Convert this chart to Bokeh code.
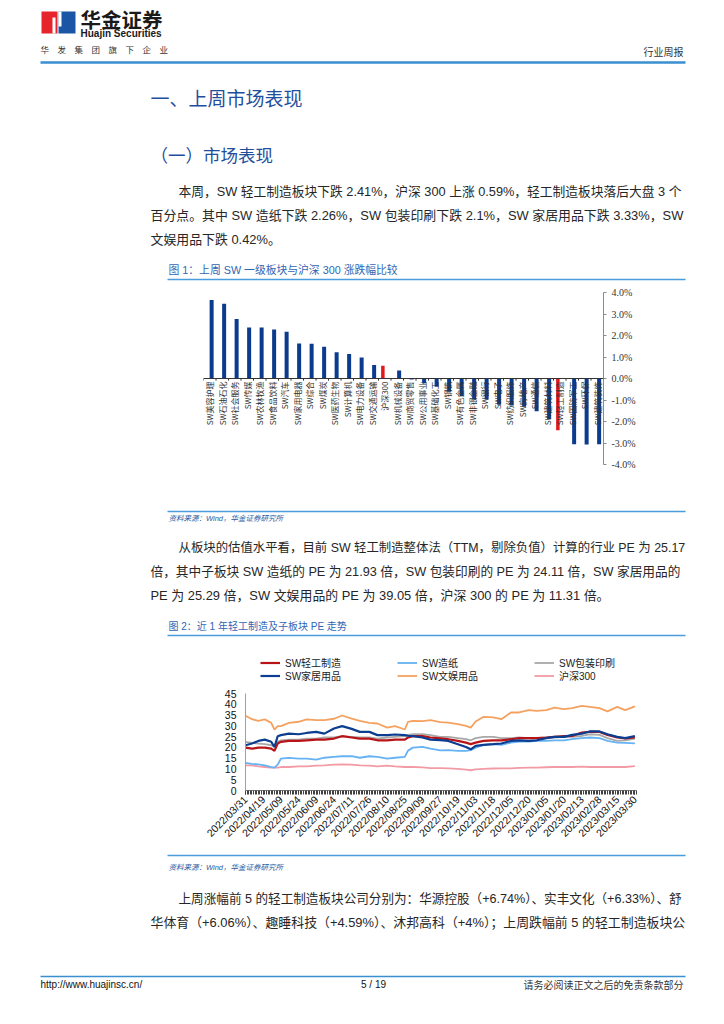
import math
from bokeh.plotting import figure
from bokeh.models import Range1d, ColumnDataSource, FixedTicker, Legend, LegendItem, Span
from bokeh.embed import file_html
from bokeh.resources import INLINE
from bokeh.core.properties import value

# ---------------- data: figure 1 (weekly change, %) ----------------
sectors = ["SW美容护理", "SW石油石化", "SW社会服务", "SW传媒", "SW农林牧渔", "SW食品饮料",
           "SW汽车", "SW家用电器", "SW综合", "SW煤炭", "SW医药生物", "SW计算机",
           "SW电力设备", "SW交通运输", "沪深300", "SW机械设备", "SW商贸零售", "SW公用事业",
           "SW基础化工", "SW钢铁", "SW有色金属", "SW非银金融", "SW银行", "SW电子",
           "SW纺织服饰", "SW房地产", "SW通信", "SW建筑材料", "SW轻工制造", "SW国防军工",
           "SW环保", "SW建筑装饰"]
weekly_change = [3.65, 3.48, 2.77, 2.37, 2.37, 2.28, 2.18, 1.63, 1.62, 1.48, 1.22, 1.14,
                 0.98, 0.63, 0.59, 0.37, -0.05, -0.22, -0.38, -0.62, -0.83, -0.98, -0.98, -1.22,
                 -1.26, -1.31, -1.52, -1.89, -2.41, -3.06, -3.07, -3.06]
highlighted = ["沪深300", "SW轻工制造"]
bar_ticks = [-4, -3, -2, -1, 0, 1, 2, 3, 4]

# ---------------- data: figure 2 (PE, trading-day index) ----------------
day_index = [0, 4, 8, 12, 16, 18, 20, 22, 27, 33, 38, 44, 49, 55, 60, 66, 71, 77, 82, 88, 93,
             99, 101, 104, 110, 115, 121, 126, 132, 137, 140, 143, 148, 154, 159, 165, 170, 176,
             181, 187, 192, 198, 203, 209, 214, 220, 225, 231, 236, 242]
tick_days = [0, 11, 22, 33, 44, 55, 66, 77, 88, 99, 110, 121, 132, 143, 154, 165, 176, 187,
             198, 209, 220, 231, 242]
tick_labels = ["2022/03/31", "2022/04/19", "2022/05/09", "2022/05/24", "2022/06/09",
               "2022/06/24", "2022/07/11", "2022/07/26", "2022/08/10", "2022/08/25",
               "2022/09/09", "2022/09/27", "2022/10/19", "2022/11/03", "2022/11/18",
               "2022/12/05", "2022/12/20", "2023/01/05", "2023/01/20", "2023/02/13",
               "2023/02/28", "2023/03/15", "2023/03/30"]
pe_light_ind = [19.9, 19.4, 19.9, 19.9, 19.4, 18.4, 21.8, 22.6, 23.0, 23.0, 23.3, 23.6, 23.6,
                24.1, 25.2, 24.6, 24.1, 24.1, 23.3, 23.3, 23.6, 23.6, 24.6, 25.2, 25.2, 24.6,
                24.2, 23.8, 23.0, 22.2, 21.5, 22.2, 23.0, 23.3, 23.3, 23.8, 24.3, 24.3, 24.3,
                24.6, 24.9, 25.2, 25.3, 26.9, 27.2, 27.2, 25.8, 24.6, 24.2, 24.6]
pe_paper = [12.8, 12.4, 12.1, 11.7, 10.9, 10.6, 12.0, 14.8, 15.1, 14.8, 14.8, 14.3, 15.2,
            15.6, 15.9, 15.9, 15.2, 15.9, 15.6, 14.8, 15.2, 15.6, 18.5, 19.9, 20.2, 19.4,
            18.6, 18.7, 18.4, 18.4, 18.7, 19.9, 21.2, 21.5, 21.2, 22.2, 22.7, 22.7, 23.0,
            23.0, 23.3, 23.3, 23.8, 24.3, 24.6, 24.3, 23.0, 22.2, 22.1, 21.9]
pe_package = [22.6, 22.1, 21.8, 21.5, 21.0, 20.2, 22.6, 23.3, 23.6, 23.6, 24.1, 24.1, 24.6,
              24.6, 25.2, 24.9, 24.6, 24.6, 24.1, 24.6, 24.9, 25.2, 25.8, 26.1, 26.1, 25.7,
              24.9, 24.9, 24.3, 23.8, 23.3, 24.3, 24.9, 24.9, 24.3, 24.3, 24.6, 24.3, 24.3,
              24.6, 24.6, 24.9, 24.9, 25.3, 26.1, 25.8, 24.3, 23.0, 23.3, 24.1]
pe_home = [21.0, 21.8, 23.0, 23.6, 22.6, 20.2, 25.2, 25.7, 26.4, 26.1, 26.7, 27.2, 26.4,
           28.8, 29.9, 28.6, 27.2, 27.2, 25.7, 25.7, 26.0, 25.7, 25.4, 25.2, 24.6, 23.6,
           23.4, 23.0, 21.5, 20.2, 19.1, 20.7, 21.2, 21.5, 21.8, 23.0, 23.3, 23.0, 23.3,
           24.3, 24.9, 24.9, 25.8, 26.4, 27.4, 27.4, 26.1, 24.9, 24.3, 25.3]
pe_culture = [34.7, 33.1, 32.3, 33.0, 31.4, 28.3, 29.9, 29.9, 31.4, 31.9, 33.0, 32.7, 32.7,
              33.3, 34.8, 33.4, 32.3, 31.4, 31.1, 29.2, 29.9, 28.3, 31.9, 32.3, 32.2, 32.7,
              31.7, 31.5, 30.8, 30.0, 29.2, 32.0, 34.2, 33.9, 33.1, 36.2, 36.2, 37.3, 37.0,
              37.3, 38.5, 37.8, 38.2, 39.3, 38.8, 38.2, 36.7, 38.8, 37.3, 39.0]
pe_hs300 = [11.7, 11.7, 11.2, 10.9, 10.6, 10.6, 10.6, 10.9, 10.9, 11.2, 11.2, 11.5, 11.7,
            12.0, 12.1, 12.0, 11.7, 11.5, 11.2, 11.5, 11.2, 10.9, 10.9, 10.9, 10.7, 10.4,
            10.4, 10.3, 10.0, 9.7, 9.4, 9.8, 10.0, 10.2, 10.3, 10.3, 10.5, 10.6, 10.6, 10.8,
            10.9, 10.9, 10.9, 11.1, 10.9, 10.9, 10.9, 10.9, 10.9, 11.3]
pe_ticks = [0, 5, 10, 15, 20, 25, 30, 35, 40, 45]

# ---------------- page text ----------------
para1 = ["本周，SW 轻工制造板块下跌 2.41%，沪深 300 上涨 0.59%，轻工制造板块落后大盘 3 个",
         "百分点。其中 SW 造纸下跌 2.26%，SW 包装印刷下跌 2.1%，SW 家居用品下跌 3.33%，SW",
         "文娱用品下跌 0.42%。"]
para2 = ["从板块的估值水平看，目前 SW 轻工制造整体法（TTM，剔除负值）计算的行业 PE 为 25.17",
         "倍，其中子板块 SW 造纸的 PE 为 21.93 倍，SW 包装印刷的 PE 为 24.11 倍，SW 家居用品的",
         "PE 为 25.29 倍，SW 文娱用品的 PE 为 39.05 倍，沪深 300 的 PE 为 11.31 倍。"]
para3 = ["上周涨幅前 5 的轻工制造板块公司分别为：华源控股（+6.74%）、实丰文化（+6.33%）、舒",
         "华体育（+6.06%）、趣睡科技（+4.59%）、沐邦高科（+4%）；上周跌幅前 5 的轻工制造板块公"]

W = 716
SANS = "Liberation Sans, Noto Sans CJK SC"
CJK = "Noto Sans CJK SC"
HEAD_BLUE = "#1F4E9E"
CAP_BLUE = "#2F66B5"
RULE_BLUE = "#4A9DDC"
TXT = "#262626"


def page_fig(top, bottom):
    p = figure(width=W, height=bottom - top, x_range=Range1d(0, W),
               y_range=Range1d(bottom, top), output_backend="svg", toolbar_location=None,
               min_border=0, x_axis_location=None, y_axis_location=None,
               outline_line_color=None)
    p.grid.visible = False
    return p


def txt(p, x, y, s, size, color=TXT, font=SANS, align="left", style="normal"):
    p.text(x=[x], y=[y], text=[s], text_font=value(font), text_font_size=f"{size}px",
           text_color=color, text_align=align, text_baseline="middle",
           text_font_style=style)


def rule(p, x0, x1, y, color=RULE_BLUE, width=1.5):
    p.line(x=[x0, x1], y=[y, y], line_color=color, line_width=width)


def paragraph(p, lines, y0, sizes):
    for i, (s, fs) in enumerate(zip(lines, sizes)):
        txt(p, 178 if i == 0 else 150, y0 + 24 * i, s, fs)


# ---------------- block 1: header + section text ----------------
f1 = page_fig(0, 283)
f1.quad(left=[41], right=[57], top=[11], bottom=[33], fill_color="#E5242B", line_color=None)
f1.quad(left=[58], right=[75], top=[11], bottom=[33], fill_color="#1B55A6", line_color=None)
f1.quad(left=[52], right=[55], top=[17], bottom=[33], fill_color="white", line_color=None)
f1.quad(left=[58], right=[61], top=[11], bottom=[26], fill_color="white", line_color=None)
txt(f1, 80, 18, "华金证券", 20.5, "#1A1A1A", CJK, style="bold")
txt(f1, 80, 32.5, "Huajin Securities", 10, "#1A1A1A", "Liberation Sans", style="bold")
txt(f1, 40, 48, "华　发　集　团　旗　下　企　业", 8.5, "#333333", CJK)
txt(f1, 683, 51, "行业周报", 10, "#333333", CJK, align="right")
rule(f1, 40, 685, 62, "#3A8FD0", 2.5)
txt(f1, 150, 97, "一、上周市场表现", 19, HEAD_BLUE, CJK)
txt(f1, 150, 154, "（一）市场表现", 17.5, HEAD_BLUE, CJK)
paragraph(f1, para1, 191, [12.75, 12.9, 12.9])
txt(f1, 168, 269, "图 1：上周 SW 一级板块与沪深 300 涨跌幅比较", 10.8, CAP_BLUE)
rule(f1, 167, 685, 279)

# ---------------- block 2: bar chart ----------------
pb = figure(width=W, height=222, x_range=Range1d(-0.5, len(sectors) - 0.5),
            y_range=Range1d(bar_ticks[0], bar_ticks[-1]), output_backend="svg",
            toolbar_location=None, x_axis_location=None, y_axis_location="right",
            min_border_left=203, min_border_right=113, min_border_top=9,
            min_border_bottom=41, outline_line_color=None)
pb.grid.visible = False
idx = list(range(len(sectors)))
blue_src = ColumnDataSource(dict(
    x=[i + 0.15 for i, s in zip(idx, sectors) if s not in highlighted],
    top=[v for s, v in zip(sectors, weekly_change) if s not in highlighted]))
red_src = ColumnDataSource(dict(
    x=[i - 0.15 for i, s in zip(idx, sectors) if s in highlighted],
    top=[v for s, v in zip(sectors, weekly_change) if s in highlighted]))
pb.vbar(x="x", top="top", bottom=0, width=0.32, source=blue_src, fill_color="#0B3B8C",
        line_color=None)
pb.vbar(x="x", top="top", bottom=0, width=0.28, source=red_src, fill_color="#E0191F",
        line_color=None)
pb.add_layout(Span(location=0, dimension="width", line_color="#333333", line_width=1))
pb.segment(x0=[i - 0.5 for i in idx + [len(sectors)]], y0=0,
           x1=[i - 0.5 for i in idx + [len(sectors)]], y1=-0.1,
           line_color="#333333", line_width=1)
pb.text(x=idx, y=[0] * len(sectors), text=sectors, angle=math.pi / 2, text_align="right",
        text_baseline="middle", y_offset=3, text_font=value(CJK), text_font_size="8px",
        text_color="#333333")
pb.yaxis.ticker = FixedTicker(ticks=bar_ticks)
pb.yaxis.major_label_overrides = {t: f"{t:.1f}%" for t in bar_ticks}
pb.yaxis.major_label_text_font = "Liberation Serif"
pb.yaxis.major_label_text_font_size = "10px"
pb.yaxis.major_label_text_color = "#333333"
pb.yaxis.axis_line_color = "#8C8C8C"
pb.yaxis.major_tick_line_color = "#8C8C8C"
pb.yaxis.major_tick_in = 0
pb.yaxis.major_tick_out = 3
pb.yaxis.minor_tick_line_color = None
pb.yaxis.major_label_standoff = 5

# ---------------- block 3: source + text ----------------
f3 = page_fig(505, 640)
rule(f3, 167, 685, 511)
txt(f3, 168, 518, "资料来源：Wind，华金证券研究所", 7.5, "#2E5A9C", style="italic")
paragraph(f3, para2, 547, [12.4, 12.7, 12.9])
txt(f3, 168, 626, "图 2：近 1 年轻工制造及子板块 PE 走势", 10, CAP_BLUE)
rule(f3, 167, 685, 635)

# ---------------- block 4: line chart ----------------
# the frame reaches above 45 so that the legend rows sit inside it; the axis stops at 45
pl = figure(width=W, height=212, x_range=Range1d(0, 243), y_range=Range1d(0, 65.9),
            output_backend="svg", toolbar_location=None, min_border_left=245,
            min_border_right=80, min_border_top=8, min_border_bottom=62,
            outline_line_color=None)
pl.grid.visible = False
src = ColumnDataSource(dict(x=day_index, li=pe_light_ind, pa=pe_paper, pk=pe_package,
                            ho=pe_home, cu=pe_culture, hs=pe_hs300))
r_hs = pl.line("x", "hs", source=src, line_color="#F29BA5", line_width=1.8)
r_pa = pl.line("x", "pa", source=src, line_color="#66B2F2", line_width=1.8)
r_pk = pl.line("x", "pk", source=src, line_color="#A8A8A8", line_width=1.8)
r_li = pl.line("x", "li", source=src, line_color="#B81418", line_width=2.2)
r_ho = pl.line("x", "ho", source=src, line_color="#0B3D91", line_width=2.2)
r_cu = pl.line("x", "cu", source=src, line_color="#F5A261", line_width=1.8)

pl.xaxis.ticker = FixedTicker(ticks=tick_days, minor_ticks=list(range(0, 244)))
pl.xaxis.major_label_overrides = {d: s for d, s in zip(tick_days, tick_labels)}
pl.xaxis.major_label_orientation = math.pi / 4
pl.xaxis.major_label_text_font = "Liberation Sans"
pl.xaxis.major_label_text_font_size = "10.5px"
pl.xaxis.major_label_text_color = "#111111"
pl.xaxis.axis_line_color = "#808080"
pl.xaxis.major_tick_line_color = "#404040"
pl.xaxis.minor_tick_line_color = "#404040"
pl.xaxis.major_tick_out = 4
pl.xaxis.major_tick_in = 0
pl.xaxis.minor_tick_out = 4
pl.xaxis.minor_tick_in = 0
pl.xaxis.major_label_standoff = 3

pl.yaxis.ticker = FixedTicker(ticks=pe_ticks)
pl.yaxis.bounds = (pe_ticks[0], pe_ticks[-1])
pl.yaxis.major_label_text_font = "Liberation Sans"
pl.yaxis.major_label_text_font_size = "10.5px"
pl.yaxis.major_label_text_color = "#111111"
pl.yaxis.axis_line_color = "#A0A0A0"
pl.yaxis.major_tick_out = 0
pl.yaxis.major_tick_in = 0
pl.yaxis.minor_tick_line_color = None
pl.yaxis.major_label_standoff = 9


def legend_row(items, y_from_frame_bottom):
    lg = Legend(items=[LegendItem(label=lab, renderers=[r]) for lab, r in items],
                orientation="horizontal", location=(15, y_from_frame_bottom))
    lg.label_text_font = SANS
    lg.label_text_font_size = "10px"
    lg.label_text_color = "#222222"
    lg.glyph_width = 20
    lg.glyph_height = 13
    lg.label_height = 13
    lg.label_standoff = 5
    lg.label_width = 107
    lg.spacing = 5
    lg.padding = 0
    lg.margin = 0
    lg.border_line_color = None
    lg.background_fill_alpha = 0
    pl.add_layout(lg)


legend_row([("SW轻工制造", r_li), ("SW造纸", r_pa), ("SW包装印刷", r_pk)], 120)
legend_row([("SW家居用品", r_ho), ("SW文娱用品", r_cu), ("沪深300", r_hs)], 107)

# ---------------- block 5: source + text + footer ----------------
f5 = page_fig(852, 1016)
rule(f5, 167, 685, 855)
txt(f5, 168, 867, "资料来源：Wind，华金证券研究所", 7.5, "#2E5A9C", style="italic")
paragraph(f5, para3, 898, [12.6, 12.9])
rule(f5, 40, 685, 976, "#3A8FD0", 1.5)
txt(f5, 40, 984, "http://www.huajinsc.cn/", 10, "#111111", "Liberation Sans")
txt(f5, 373, 984, "5 / 19", 10, "#111111", "Liberation Sans", align="center")
txt(f5, 683, 984, "请务必阅读正文之后的免责条款部分", 10, "#333333", CJK, align="right")

open("out.html", "w").write(file_html([f1, pb, f3, pl, f5], INLINE))
